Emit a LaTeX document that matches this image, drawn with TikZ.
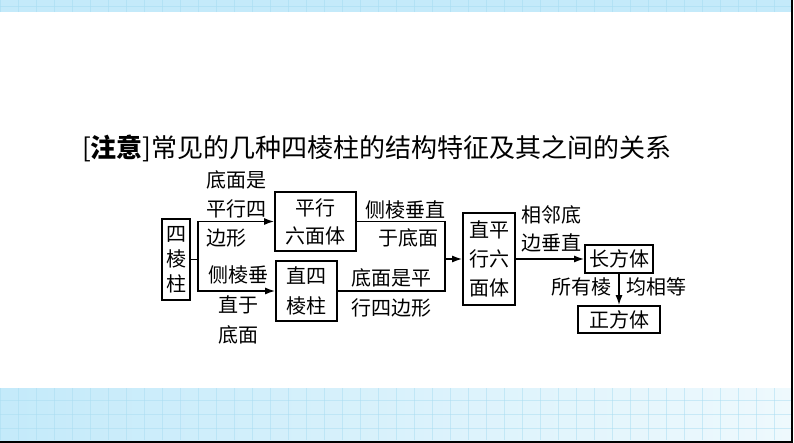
\documentclass[tikz,border=0pt]{standalone}
\usepackage{fontspec}
\setmainfont{Noto Sans CJK SC}
\usetikzlibrary{arrows.meta}
\definecolor{bandA}{HTML}{C4EAFA}
\definecolor{bandB}{HTML}{EEF9FD}
\definecolor{gridc}{HTML}{A9DDF2}
\begin{document}
\begin{tikzpicture}[x=1pt,y=-1pt,
  box/.style={draw,line width=1.6pt,inner sep=0pt,align=center,font=\fontsize{20}{28}\selectfont},
  lbl/.style={inner sep=0pt,font=\fontsize{20}{28}\selectfont},
  conn/.style={line width=1.6pt},
  arr/.style={line width=1.6pt,-{Latex[length=10pt,width=7pt]}}]
\useasboundingbox (0,0) rectangle (794,443);
% background bands
\fill[bandA] (0,0) rectangle (791,12);
\shade[left color=bandA,right color=bandB] (0,388) rectangle (791,440);
\foreach \i in {0,18,...,790}{
  \draw[gridc,line width=0.4pt,opacity=0.6] (\i,0) -- (\i,12);
  \draw[gridc,line width=0.4pt,opacity=0.5] (\i,388) -- (\i,440);
}
\draw[gridc,line width=0.4pt,opacity=0.6] (0,6) -- (791,6);
\foreach \j in {400,414,428}{\draw[gridc,line width=0.4pt,opacity=0.5] (0,\j) -- (791,\j);}
\draw[black,line width=2pt] (792,0) -- (792,442) -- (0,442);
% title
\node[anchor=west,inner sep=0pt,font=\fontsize{26}{30}\selectfont] (title) at (82,148)
  {[\textbf{注意}]常见的几种四棱柱的结构特征及其之间的关系};
% boxes
\node[box,minimum width=28pt,minimum height=81pt,text width=22pt,font=\fontsize{20}{25}\selectfont] (sl) at (176,259.5) {四\\棱\\柱};
\node[box,minimum width=81pt,minimum height=59pt] (px) at (315.5,221.5) {平行\\六面体};
\node[box,minimum width=61pt,minimum height=60pt,font=\fontsize{20}{30}\selectfont] (zs) at (306.5,291) {直四\\棱柱};
\node[box,minimum width=52pt,minimum height=92pt,font=\fontsize{20}{29}\selectfont] (zp) at (489,259) {直平\\行六\\面体};
\node[box,minimum width=68pt,minimum height=28pt] (cf) at (619,259) {长方体};
\node[box,minimum width=82pt,minimum height=27pt] (zf) at (619,319.5) {正方体};
% junctions
\coordinate (j1) at (198,259.5);
\coordinate (j2) at (445,259);
\draw[conn] (sl.east) -- (j1);
\draw[arr] (j1) |- (px.west);
\draw[arr] (j1) |- (zs.west);
\draw[conn] (px.east) -| (j2);
\draw[conn] (zs.east) -| (j2);
\draw[arr] (j2) -- (zp.west);
\draw[arr] (zp.east) -- (cf.west);
\draw[arr] (cf.south) -- (zf.north);
% labels
\node[lbl,anchor=west,align=left,font=\fontsize{20}{29}\selectfont] (l1) at (206,209) {底面是\\平行四\\边形};
\node[lbl,align=center,font=\fontsize{20}{30}\selectfont] (l2) at (238,305) {侧棱垂\\直于\\底面};
\node[lbl,align=center,font=\fontsize{20}{28}\selectfont] (l3) at (405,224) {侧棱垂直\\\,\,于底面};
\node[lbl,align=center,font=\fontsize{20}{30}\selectfont] (l4) at (391,293) {底面是平\\行四边形};
\node[lbl,align=center,font=\fontsize{20}{28}\selectfont] (l5) at (551,229) {相邻底\\边垂直};
\node[lbl,anchor=east] (l6) at (612,287) {所有棱};
\node[lbl,anchor=west] (l7) at (626,287) {均相等};
\end{tikzpicture}
\end{document}
